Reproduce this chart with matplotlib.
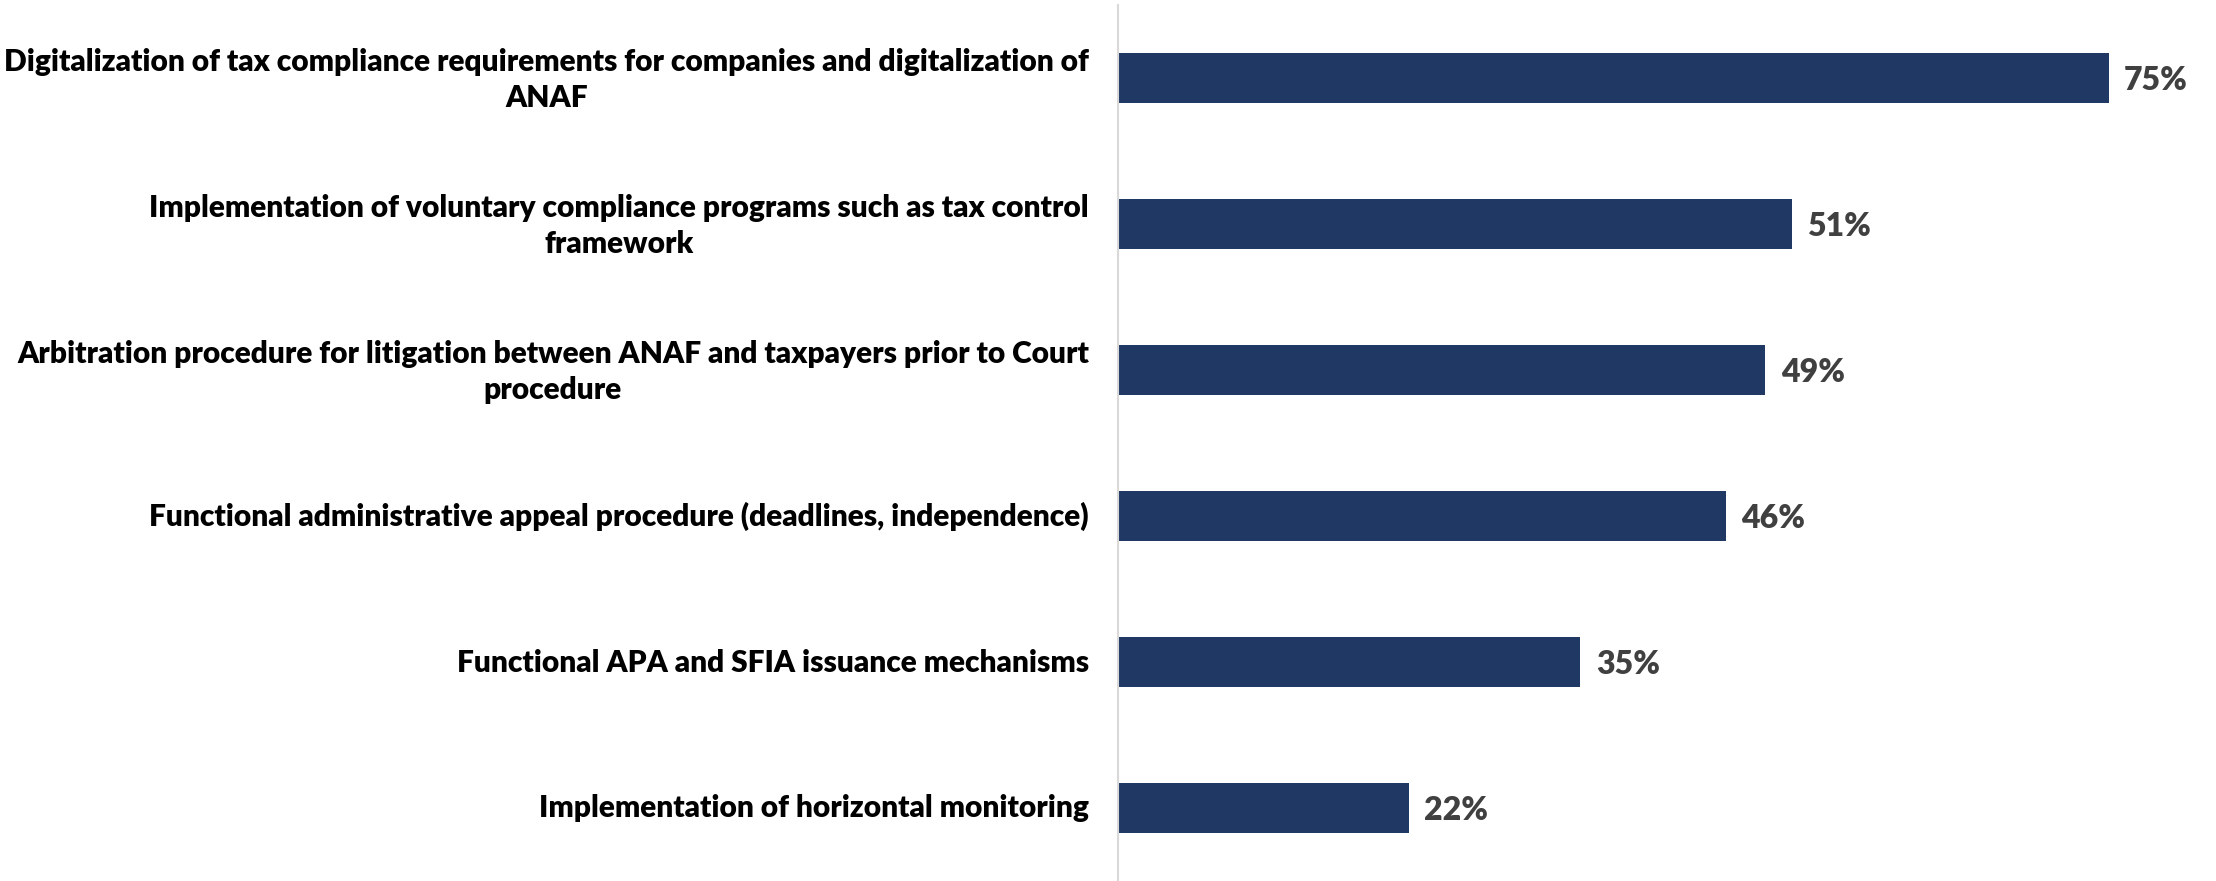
import matplotlib
matplotlib.use("Agg")
import matplotlib.pyplot as plt
from matplotlib.transforms import ScaledTranslation

categories = [
    "Digitalization of tax compliance requirements for companies and digitalization of\nANAF",
    "Implementation of voluntary compliance programs such as tax control\nframework",
    "Arbitration procedure for litigation between ANAF and taxpayers prior to Court\nprocedure",
    "Functional administrative appeal procedure (deadlines, independence)",
    "Functional APA and SFIA issuance mechanisms",
    "Implementation of horizontal monitoring",
]
values = [75, 51, 49, 46, 35, 22]
value_labels = ["75%", "51%", "49%", "46%", "35%", "22%"]

W, H = 2216, 881
fig = plt.figure(figsize=(W / 100, H / 100), dpi=100)
ax = fig.add_axes([1118 / W, 0, (2175 - 1118) / W, 1 - 5 / H])

bar_color = "#203864"
y = list(range(len(categories)))
ax.barh(y, values, height=0.34, color=bar_color)
ax.set_ylim(len(categories) - 0.5, -0.5)
ax.set_xlim(0, 80)

font = "Lato"
ax.set_yticks(y)
labels = ax.set_yticklabels(categories, fontsize=21.5, fontweight="heavy", family=[font, "DejaVu Sans"],
                            color="black", multialignment="center", linespacing=1.36)
ax.tick_params(axis="y", length=0, pad=21)
ax.set_xticks([])
for lab, cat in zip(labels, categories):
    dy = 5 if "\n" in cat else 2
    lab.set_transform(lab.get_transform() + ScaledTranslation(0, dy / 100, fig.dpi_scale_trans))

for s in ["top", "right", "bottom"]:
    ax.spines[s].set_visible(False)
ax.spines["left"].set_color("#d9d9d9")
ax.spines["left"].set_linewidth(1.5)

for yi, v, lab in zip(y, values, value_labels):
    ax.annotate(lab, xy=(v, yi), xytext=(11, -2), textcoords="offset points",
                ha="left", va="center", fontsize=23, fontweight="heavy",
                family=[font, "DejaVu Sans"], color="#404040")

fig.savefig("out.png", dpi=100)
